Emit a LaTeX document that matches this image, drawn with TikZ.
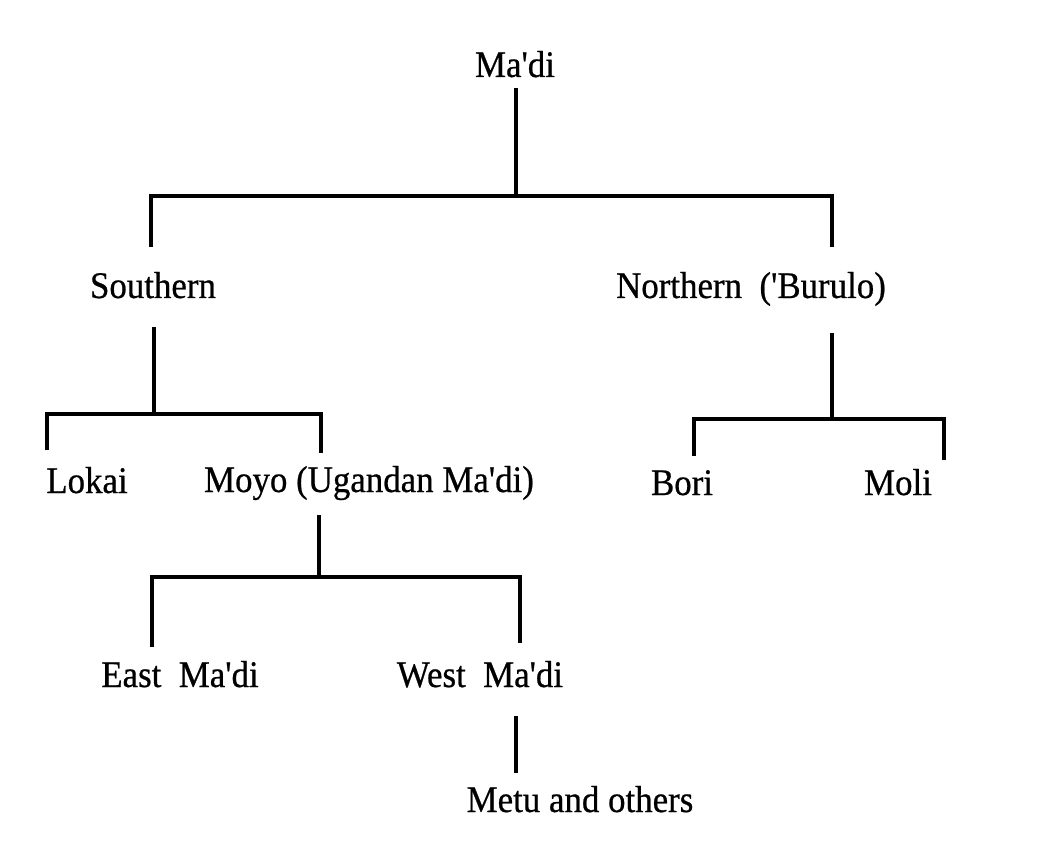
\documentclass[tikz,border=0pt]{standalone}
\usepackage{fontspec}
\setmainfont{Liberation Serif}[FakeStretch=0.93,FakeBold=0.6,Ligatures=TeXOff]
\begin{document}
\begin{tikzpicture}[x=1pt,y=-1pt,
  lbl/.style={anchor=base,inner sep=0pt,font=\fontsize{37.5}{40}\selectfont},
  conn/.style={line width=3.4pt,line cap=butt,line join=miter}]
\useasboundingbox (0,0) rectangle (1044,858);
% labels
\node[lbl] (madi) at (515,77) {Ma'di};
\node[lbl] (south) at (153,298) {Southern};
\node[lbl] (north) at (751,298) {Northern\ \ ('Burulo)};
\node[lbl] (lokai) at (87,493) {Lokai};
\node[lbl] (moyo) at (369,492) {Moyo (Ugandan Ma'di)};
\node[lbl] (bori) at (682,495) {Bori};
\node[lbl] (moli) at (898,495) {Moli};
\node[lbl] (east) at (180,687) {East\ \ Ma'di};
\node[lbl] (west) at (480,687) {West\ \ Ma'di};
\node[lbl] (metu) at (580,812) {Metu and others};
% junction coordinates
\coordinate (m0) at (516,88);  \coordinate (m1) at (516,196);
\coordinate (mL) at (151,196); \coordinate (mR) at (832,196);
\coordinate (mLe) at (151,247); \coordinate (mRe) at (832,247);
\coordinate (s0) at (154,327); \coordinate (s1) at (154,414);
\coordinate (sL) at (47,414);  \coordinate (sR) at (321,414);
\coordinate (sLe) at (47,450); \coordinate (sRe) at (321,453);
\coordinate (n0) at (832,333); \coordinate (n1) at (832,419);
\coordinate (nL) at (694,419); \coordinate (nR) at (944,419);
\coordinate (nLe) at (694,456); \coordinate (nRe) at (944,460);
\coordinate (y0) at (319,515); \coordinate (y1) at (319,577);
\coordinate (yL) at (152,577); \coordinate (yR) at (520,577);
\coordinate (yLe) at (152,647); \coordinate (yRe) at (520,643);
\coordinate (w0) at (516,716); \coordinate (w1) at (516,773);
% connectors
\draw[conn] (m0) -- (m1);
\draw[conn] (mLe) -- (mL) -- (mR) -- (mRe);
\draw[conn] (s0) -- (s1);
\draw[conn] (sLe) -- (sL) -- (sR) -- (sRe);
\draw[conn] (n0) -- (n1);
\draw[conn] (nLe) -- (nL) -- (nR) -- (nRe);
\draw[conn] (y0) -- (y1);
\draw[conn] (yLe) -- (yL) -- (yR) -- (yRe);
\draw[conn] (w0) -- (w1);
\end{tikzpicture}
\end{document}
